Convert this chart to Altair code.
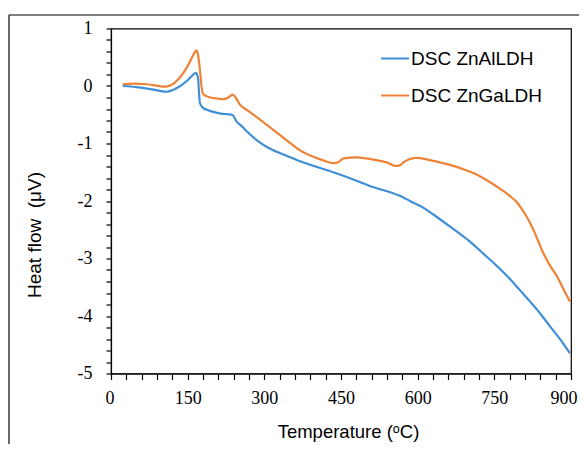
import altair as alt
import pandas as pd

# --- data ---
al_temp = [23, 50, 80, 109, 130, 150, 160, 166, 170, 174, 180, 190, 200, 215, 227, 237, 246, 256, 266, 285,
           305, 340, 370, 400, 435, 484, 506, 540, 565, 585, 610, 630, 670, 700, 729, 755, 781, 800, 820, 840,
           859, 880, 898]
al_flow = [0.0, -0.02, -0.06, -0.10, -0.03, 0.10, 0.19, 0.23, 0.15, -0.30, -0.38, -0.42, -0.45, -0.48, -0.49,
           -0.50, -0.62, -0.70, -0.79, -0.94, -1.06, -1.20, -1.31, -1.40, -1.50, -1.66, -1.74, -1.83, -1.91,
           -2.0, -2.11, -2.23, -2.49, -2.69, -2.92, -3.13, -3.36, -3.55, -3.75, -3.96, -4.18, -4.42, -4.65]

ga_temp = [23, 43, 70, 106, 125, 141, 152, 160, 165, 168, 171, 174, 177, 180, 194, 210, 219, 228, 234, 238,
           243, 252, 268, 285, 320, 356, 370, 390, 411, 436, 445, 455, 481, 513, 540, 556, 565, 572, 585, 599,
           620, 644, 670, 696, 720, 741, 760, 780, 795, 806, 815, 826, 845, 860, 872, 885, 898]
ga_flow = [0.03, 0.04, 0.03, -0.01, 0.06, 0.22, 0.38, 0.52, 0.60, 0.62, 0.50, 0.28, 0.0, -0.14, -0.20, -0.22,
           -0.23, -0.21, -0.17, -0.15, -0.19, -0.32, -0.43, -0.54, -0.78, -1.03, -1.12, -1.21, -1.28, -1.34,
           -1.32, -1.26, -1.24, -1.28, -1.33, -1.39, -1.38, -1.33, -1.27, -1.25, -1.28, -1.33, -1.39, -1.47,
           -1.56, -1.67, -1.78, -1.91, -2.03, -2.17, -2.30, -2.49, -2.89, -3.14, -3.30, -3.53, -3.75]

series_names = ["DSC ZnAlLDH", "DSC ZnGaLDH"]
series_colors = ["#3E8FD6", "#EE8236"]

x_ticks = [i * 30 for i in range(31)]
y_ticks = [round(-5 + i * 0.2, 1) for i in range(31)]

df = pd.concat([
    pd.DataFrame({"T": al_temp, "H": al_flow, "s": series_names[0], "o": range(len(al_temp))}),
    pd.DataFrame({"T": ga_temp, "H": ga_flow, "s": series_names[1], "o": range(len(ga_temp))}),
])

lines = alt.Chart(df).mark_line(strokeWidth=2.2, interpolate="monotone").encode(
    x=alt.X("T:Q", scale=alt.Scale(domain=[0, 900], nice=False, zero=False),
            axis=alt.Axis(values=x_ticks, title="Temperature (ᵒC)",
                          labelExpr="datum.value % 150 == 0 ? '' + datum.value : ''",
                          labelOverlap=False, labelFlush=True, labelFlushOffset=6,
                          labelFont="Liberation Serif", labelFontSize=18,
                          labelColor="black", labelPadding=10, tickSize=6, tickColor="black",
                          domainColor="black", grid=False,
                          titleFont="Liberation Sans", titleFontSize=18.5, titleFontWeight="normal",
                          titleColor="black", titleX=237, titleY=49, titleAnchor="middle")),
    y=alt.Y("H:Q", scale=alt.Scale(domain=[-5, 1], nice=False, zero=False),
            axis=alt.Axis(values=y_ticks, title="Heat flow\u00a0\u00a0(μV)",
                          labelExpr="datum.value % 1 == 0 ? '' + datum.value : ''",
                          labelOverlap=False, labelFlush=False, labelFont="Liberation Serif", labelFontSize=18,
                          labelColor="black", labelPadding=14, tickSize=5, tickColor="black",
                          domainColor="black", grid=False,
                          titleFont="Liberation Sans", titleFontSize=19, titleFontWeight="normal",
                          titleColor="black", titleX=-67, titleY=206, titleAnchor="middle")),
    color=alt.Color("s:N", scale=alt.Scale(domain=series_names, range=series_colors),
                    legend=alt.Legend(title=None, orient="none", legendX=269, legendY=15,
                                      symbolType="stroke", symbolSize=784, symbolStrokeWidth=2,
                                      labelFont="Liberation Sans", labelFontSize=19, labelColor="black",
                                      labelOffset=1, rowPadding=12, padding=0)),
    order="o:Q",
)

frame_data = alt.Data(values=[{"k": 1}])
left_border = alt.Chart(frame_data).mark_rule(color="black", strokeWidth=1.2, clip=False).encode(
    x=alt.value(-102), y=alt.value(-13.5), y2=alt.value(500))
top_border = alt.Chart(frame_data).mark_rule(color="black", strokeWidth=1.2, clip=False).encode(
    x=alt.value(-102), x2=alt.value(600), y=alt.value(-13.5))

chart = alt.layer(lines, left_border, top_border).properties(
    width=460, height=345,
    autosize=alt.AutoSizeParams(type="none"),
    padding={"left": 103, "top": 20.5, "right": 8, "bottom": 70},
    background="white",
).configure_view(stroke="black", strokeWidth=1.2).configure_axis(domainWidth=1.2, tickWidth=1.2)

chart.save("out.html", embed_options={"renderer": "svg", "actions": False})
